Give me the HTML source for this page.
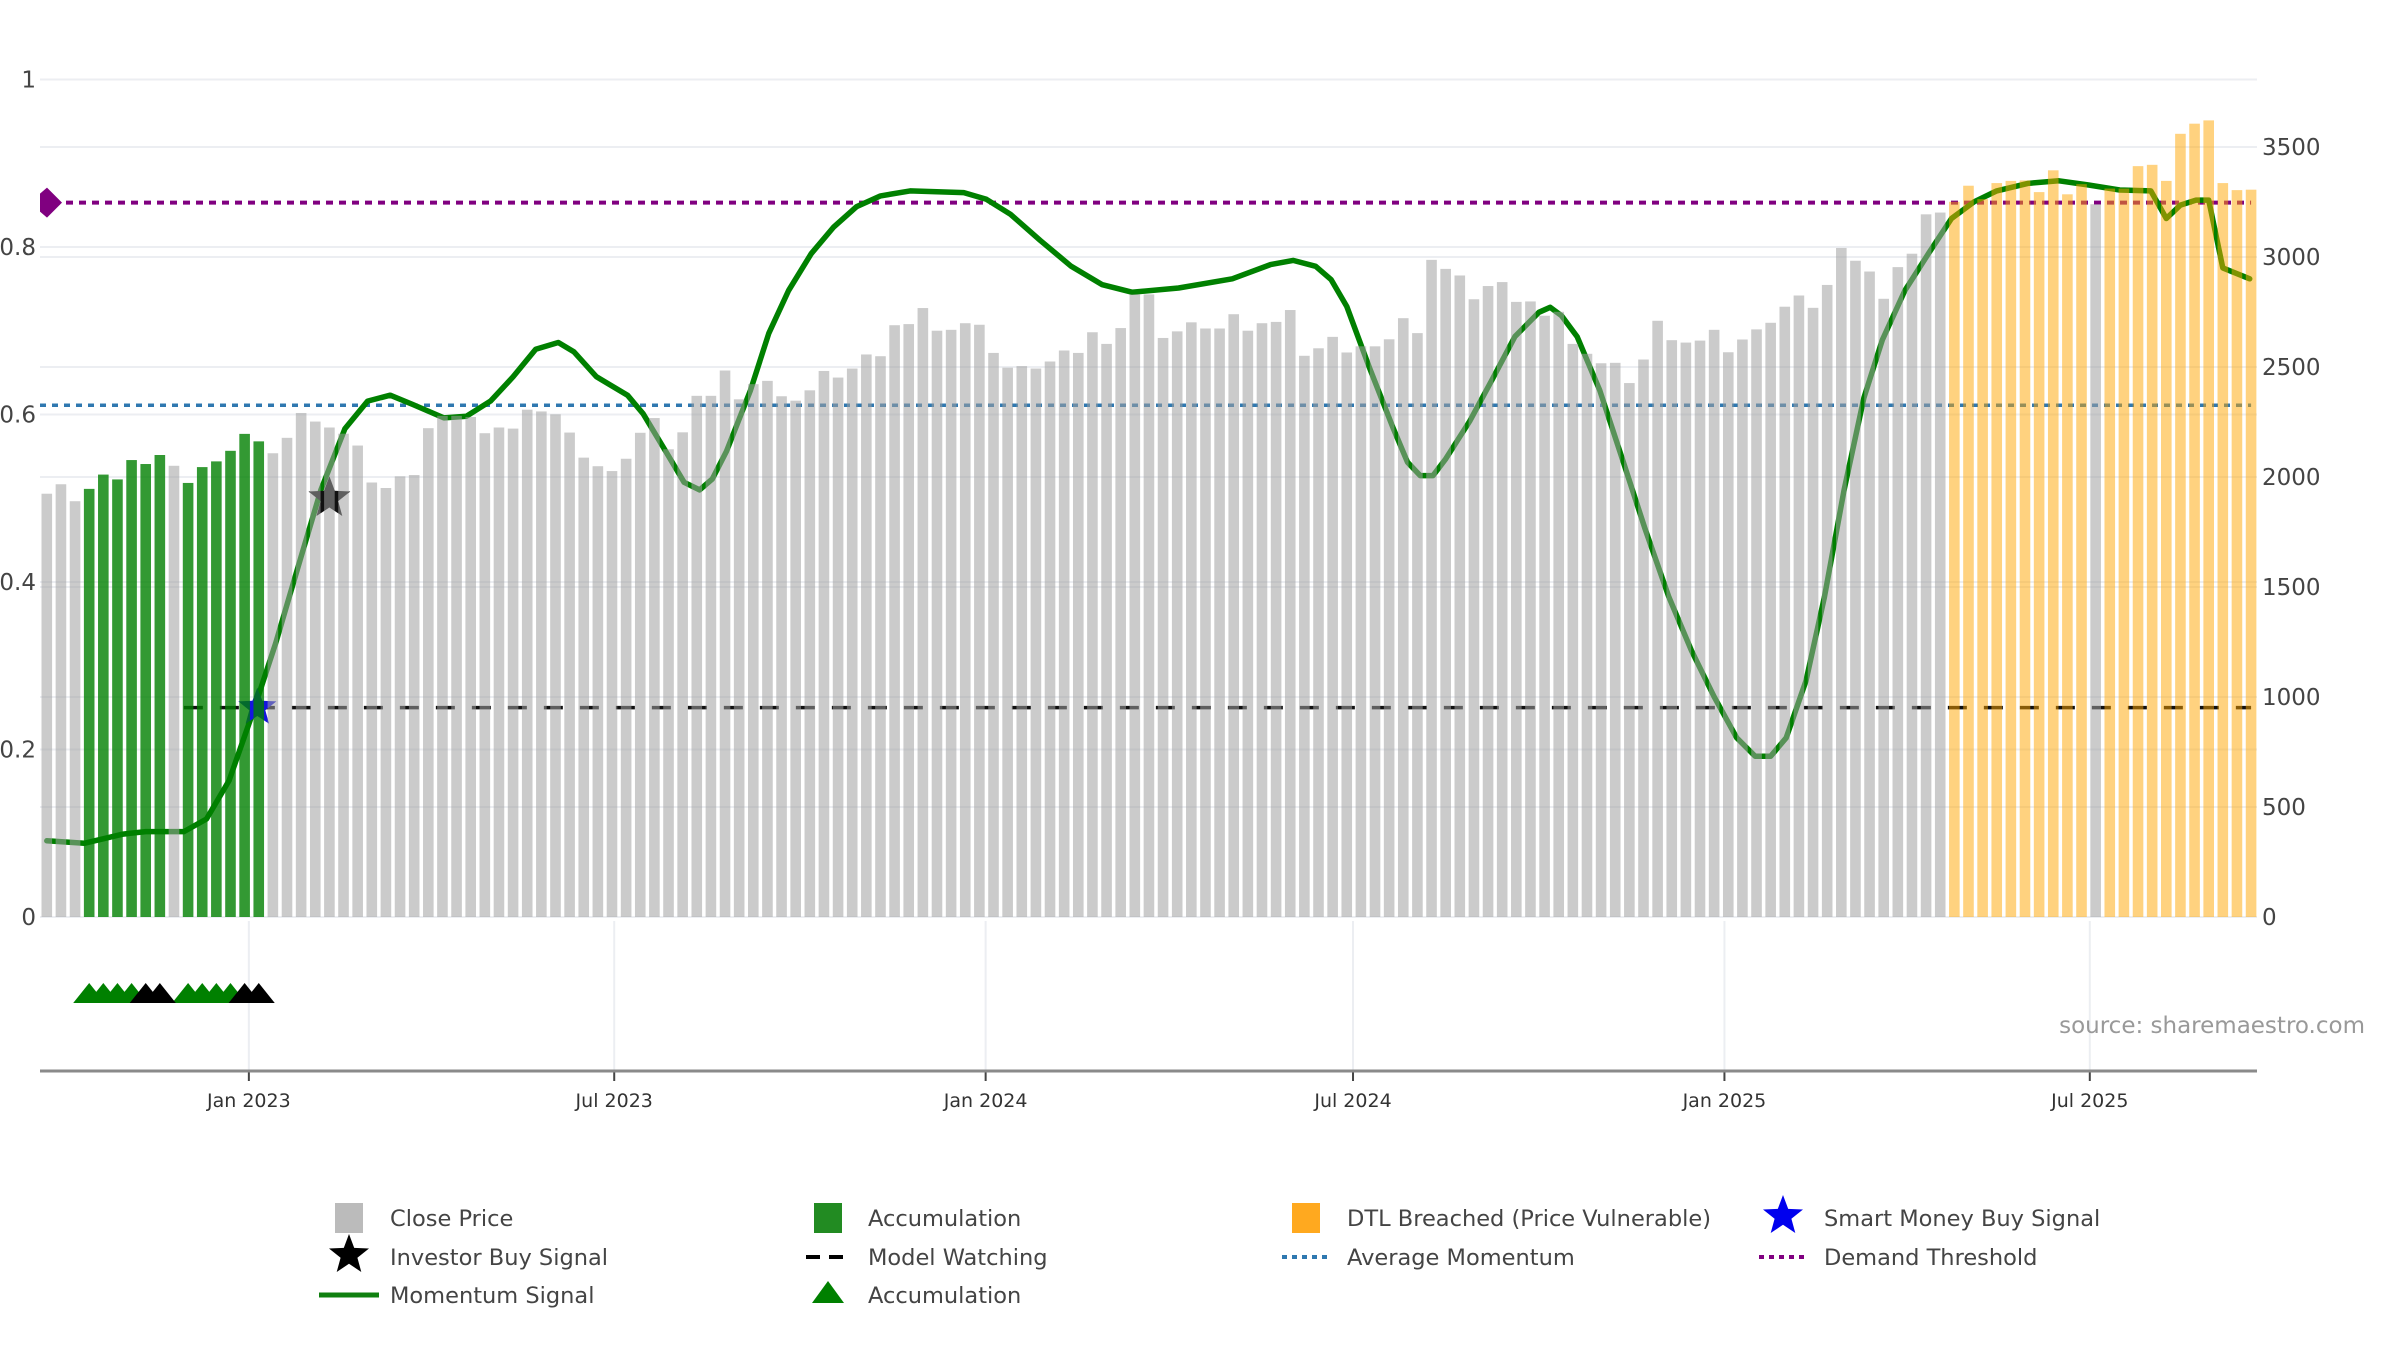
<!DOCTYPE html>
<html>
<head>
<meta charset="utf-8">
<style>
  html, body { margin: 0; padding: 0; background: #fff; }
  svg { display: block; font-family: "DejaVu Sans", "Liberation Sans", sans-serif; }
</style>
</head>
<body>
<svg id="chart" width="2400" height="1350" viewBox="0 0 2400 1350" xmlns="http://www.w3.org/2000/svg">
  <g id="grid"></g>
  <g id="lines"></g>
  <g id="bars"></g>
  <g id="axes"></g>
  <g id="signals"></g>
  <text x="2365" y="1033" text-anchor="end" font-size="23" fill="#999">source: sharemaestro.com</text>
  <g id="legend"></g>
</svg>
<script>
// ---- data ----
const closePrices = [1924,1967,1890,1946,2011,1989,2077,2059,2100,2051,1973,2045,2071,2119,2196,2162,2108,2178,2291,2252,2225,2197,2143,1975,1950,2003,2009,2222,2278,2278,2273,2199,2225,2220,2306,2298,2285,2202,2088,2049,2027,2083,
2201,2268,2126,2203,2369,2369,2484,2353,2422,2437,2367,2347,2394,2482,2452,2493,2557,2549,2690,2695,2768,2665,2669,2699,2692,2564,2497,2504,2493,2525,2575,2564,2658,2605,2677,2830,2830,2632,2662,2703,
2675,2675,2740,2665,2699,2705,2759,2551,2585,2637,2566,2594,2594,2626,2722,2654,2987,2946,2916,2808,2868,2886,2796,2798,2733,2751,2605,2560,2517,2519,2427,2534,2710,2622,2611,2620,
2669,2567,2625,2671,2701,2774,2825,2769,2873,3041,2983,2934,2810,2954,3015,3194,3202,3251,3324,3263,3336,3346,3348,3295,3394,3285,3331,3240,3311,3311,3413,3419,3346,3560,3606,3621,3336,3304,3306];
const accumulationBars = [3,4,5,6,7,8,10,11,12,13,14,15];
const dtlBreachedStart = 135;
const dtlBreachedExceptions = [145];
const momentumWeeks = [0,2.65,5.4,7,9.7,11.3,12.9,14.6,16.2,17.8,19.4,21.1,22.7,24.3,25.9,28.1,29.7,31.4,33,34.6,36.2,37.3,38.9,41.1,42.2,43.8,45.1,46.2,47.1,48.1,49.8,51.1,52.5,54.1,55.7,57.3,59,61.1,64.9,66.5,68.2,70.3,72.5,74.7,76.8,80.1,83.9,86.6,88.2,89.8,90.9,92,93.6,95.3,96.3,97.2,98.1,99,100.7,102.3,103.9,105.6,106.4,107.2,108.3,109.9,111.5,113.1,114.8,116.4,118,119.6,120.9,122,123.1,124.5,125.8,127.2,128.6,129.9,131.5,133.2,134.8,136.4,138,140.2,142.4,144.5,146.7,148.9,150,151,152.1,153,154,155.9];
const momentumValues = [0.091,0.088,0.099,0.102,0.102,0.117,0.163,0.245,0.327,0.419,0.51,0.583,0.616,0.623,0.612,0.596,0.598,0.616,0.645,0.678,0.686,0.675,0.645,0.623,0.601,0.556,0.519,0.51,0.523,0.556,0.629,0.697,0.748,0.792,0.824,0.848,0.861,0.867,0.865,0.857,0.839,0.808,0.777,0.755,0.746,0.751,0.762,0.779,0.784,0.777,0.761,0.729,0.656,0.583,0.543,0.527,0.527,0.547,0.592,0.642,0.693,0.722,0.728,0.718,0.693,0.629,0.547,0.464,0.382,0.318,0.263,0.214,0.192,0.192,0.214,0.282,0.382,0.51,0.62,0.689,0.748,0.793,0.834,0.854,0.867,0.876,0.879,0.874,0.868,0.867,0.834,0.85,0.856,0.856,0.775,0.762];
const averageMomentum = 0.611;
const demandThreshold = 0.853;
const modelWatchingLevel = 0.25;
const modelWatchingStart = 10;
const investorBuy = [20, 0.5];
const smartMoneyBuy = [14.9, 0.25];
const triangleAccum = [3,4,5,6,10,11,12,13];
const triangleBlack = [7,8,14,15];
const leftTicks = [0,0.2,0.4,0.6,0.8,1];
const leftTickLabels = ["0","0.2","0.4","0.6","0.8","1"];
const rightTicks = [0,500,1000,1500,2000,2500,3000,3500];
const xTickLabels = ["Jan 2023","Jul 2023","Jan 2024","Jul 2024","Jan 2025","Jul 2025"];
const xTickDays = [0,181,365,547,731,912];

// ---- scales ----
const NS = "http://www.w3.org/2000/svg";
const X0 = 46.8, DX = 14.13, Y0 = 917;
const plotL = 40, plotR = 2257, axisY = 1071;
const xS = i => X0 + i * DX;
const yL = v => Y0 - v * 837.5;
const yR = p => Y0 - p * (770 / 3500);
const jan2023Week = 14.3;
function mk(tag, attrs, parent) {
  const e = document.createElementNS(NS, tag);
  for (const k in attrs) e.setAttribute(k, attrs[k]);
  parent.appendChild(e);
  return e;
}
function starPts(cx, cy, R) {
  const r = R * 0.42; let p = [];
  for (let k = 0; k < 10; k++) {
    const a = -Math.PI / 2 + k * Math.PI / 5, rr = k % 2 ? r : R;
    p.push((cx + rr * Math.cos(a)).toFixed(1) + "," + (cy + rr * Math.sin(a)).toFixed(1));
  }
  return p.join(" ");
}
const grid = document.getElementById("grid");
const lines = document.getElementById("lines");
const bars = document.getElementById("bars");
const axes = document.getElementById("axes");
const sig = document.getElementById("signals");
const legend = document.getElementById("legend");

// grid
leftTicks.forEach((v, k) => {
  const g = mk("line", {x1: plotL, x2: plotR, y1: yL(v), y2: yL(v), stroke: "#eceef2", "stroke-width": 2}, grid);
  
  
  const t = mk("text", {x: 36, y: yL(v) + 8, "text-anchor": "end", "font-size": 23, fill: "#444"}, axes);
  
  
  t.textContent = leftTickLabels[k];
});
rightTicks.forEach(p => {
  const g = mk("line", {x1: plotL, x2: plotR, y1: yR(p), y2: yR(p), stroke: "#eceef2", "stroke-width": 2}, grid);
  
  
  const t = mk("text", {x: 2262, y: yR(p) + 8, "font-size": 23, fill: "#444"}, axes);
  
  
  t.textContent = String(p);
});
xTickDays.forEach((d, k) => {
  const x = xS(jan2023Week + d / 7);
  const g = mk("line", {x1: x, x2: x, y1: Y0 + 4, y2: axisY, stroke: "#eceef2", "stroke-width": 2}, grid);
  
  
  const tk = mk("line", {x1: x, x2: x, y1: axisY, y2: axisY + 10, stroke: "#444", "stroke-width": 2}, axes);
  
  
  const t = mk("text", {x: x, y: 1107, "text-anchor": "middle", "font-size": 19, fill: "#333"}, axes);
  
  
  t.textContent = xTickLabels[k];
});
const ax = mk("line", {x1: plotL, x2: plotR, y1: axisY, y2: axisY, stroke: "#8a8a8a", "stroke-width": 3}, axes);



// horizontal reference lines
const avg = mk("line", {x1: plotL, x2: xS(closePrices.length - 1), y1: yL(averageMomentum), y2: yL(averageMomentum), stroke: "#2f78b0", "stroke-width": 3.5, "stroke-dasharray": "6,6"}, lines);


const dem = mk("line", {x1: plotL, x2: xS(closePrices.length - 1), y1: yL(demandThreshold), y2: yL(demandThreshold), stroke: "#800080", "stroke-width": 4, "stroke-dasharray": "7,6"}, lines);


const dy = yL(demandThreshold);
const dm = mk("polygon", {points: `${plotL},${dy-9} ${plotL+7},${dy-15} ${plotL+22},${dy} ${plotL+7},${dy+15} ${plotL},${dy+9}`, fill: "#800080"}, lines);


const mw = mk("line", {x1: xS(modelWatchingStart - 0.3), x2: xS(closePrices.length - 1), y1: yL(modelWatchingLevel), y2: yL(modelWatchingLevel), stroke: "#111", "stroke-width": 3.5, "stroke-dasharray": "19,17"}, lines);



// momentum
const mp = momentumWeeks.map((w, k) => xS(w).toFixed(1) + "," + yL(momentumValues[k]).toFixed(1)).join(" ");
const mline = mk("polyline", {points: mp, fill: "none", stroke: "#008000", "stroke-width": 5.5, "stroke-linejoin": "round", "stroke-linecap": "round"}, lines);



// stars
const inv = mk("polygon", {points: starPts(xS(investorBuy[0]), yL(investorBuy[1]), 22), fill: "#111"}, lines);


const sm = mk("polygon", {points: starPts(xS(smartMoneyBuy[0]), yL(smartMoneyBuy[1]), 20), fill: "#1515e0"}, lines);



// bars
closePrices.forEach((p, i) => {
  let fill = "rgb(160,160,160)", op = 0.55, nm = 'close-price-bar';
  if (accumulationBars.includes(i)) { fill = "rgb(0,128,0)"; op = 0.8; nm = 'accumulation-bar'; }
  else if (i >= dtlBreachedStart && !dtlBreachedExceptions.includes(i)) { fill = "rgb(255,165,0)"; op = 0.5; nm = 'dtl-breached-bar'; }
  const r = mk("rect", {x: xS(i) - 5.3, y: yR(p), width: 10.6, height: Y0 - yR(p), fill: fill, "fill-opacity": op}, bars);
  
  
});

// triangles
function tri(i, color, name) {
  const x = xS(i), yb = 1003, yt = 983;
  const t = mk("polygon", {points: `${x-16},${yb} ${x},${yt} ${x+16},${yb}`, fill: color}, sig);
  
  
}
triangleAccum.forEach(i => tri(i, "#008000", 'accumulation-triangle'));
triangleBlack.forEach(i => tri(i, "#000", 'signal-triangle'));

// legend
const rows = [1218, 1257, 1295];
const cols = [349, 828, 1306, 1783];
const textX = [390, 868, 1347, 1824];
function ltext(c, r, s, name) {
  const t = mk("text", {x: textX[c], y: rows[r] + 8, "font-size": 22.5, fill: "#444"}, legend);
  
  
  t.textContent = s;
}
function lsq(c, r, color, name) {
  const s = mk("rect", {x: cols[c] - 14, y: rows[r] - 15, width: 28, height: 30, fill: color}, legend);
  
  
}
lsq(0, 0, "#bbbbbb", 'legend-close-price-swatch'); ltext(0, 0, "Close Price", 'legend-close-price');
lsq(1, 0, "#228b22", 'legend-accumulation-swatch'); ltext(1, 0, "Accumulation", 'legend-accumulation');
lsq(2, 0, "#ffa91f", 'legend-dtl-swatch'); ltext(2, 0, "DTL Breached (Price Vulnerable)", 'legend-dtl-breached');
const ls1 = mk("polygon", {points: starPts(cols[3], rows[0] - 2, 21), fill: "#0000ee"}, legend);


ltext(3, 0, "Smart Money Buy Signal", 'legend-smart-money');
const ls2 = mk("polygon", {points: starPts(cols[0], rows[1] - 2, 21), fill: "#000"}, legend);


ltext(0, 1, "Investor Buy Signal", 'legend-investor-buy');
const ll1 = mk("line", {x1: cols[1] - 22, x2: cols[1] + 22, y1: rows[1], y2: rows[1], stroke: "#000", "stroke-width": 4, "stroke-dasharray": "14,9"}, legend);


ltext(1, 1, "Model Watching", 'legend-model-watching');
const ll2 = mk("line", {x1: cols[2] - 24, x2: cols[2] + 24, y1: rows[1], y2: rows[1], stroke: "#2f78b0", "stroke-width": 4, "stroke-dasharray": "5,5"}, legend);


ltext(2, 1, "Average Momentum", 'legend-average-momentum');
const ll3 = mk("line", {x1: cols[3] - 24, x2: cols[3] + 24, y1: rows[1], y2: rows[1], stroke: "#800080", "stroke-width": 4, "stroke-dasharray": "5,5"}, legend);


ltext(3, 1, "Demand Threshold", 'legend-demand-threshold');
const ll4 = mk("line", {x1: cols[0] - 30, x2: cols[0] + 30, y1: rows[2], y2: rows[2], stroke: "#108010", "stroke-width": 5}, legend);


ltext(0, 2, "Momentum Signal", 'legend-momentum-signal');
const lt = mk("polygon", {points: `${cols[1]-16},${rows[2]+8} ${cols[1]},${rows[2]-14} ${cols[1]+16},${rows[2]+8}`, fill: "#008000"}, legend);


ltext(1, 2, "Accumulation", 'legend-accumulation-signal');
</script>
</body>
</html>
